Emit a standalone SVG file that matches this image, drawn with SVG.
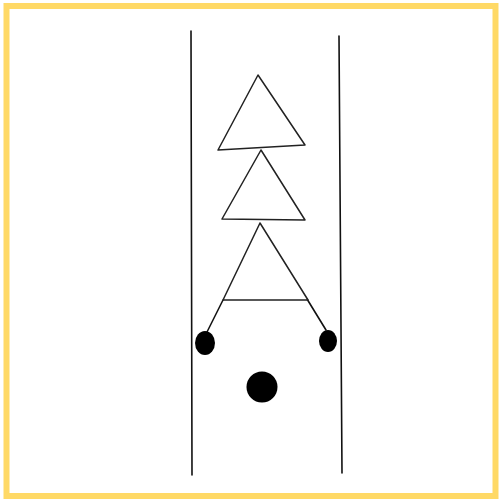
<svg xmlns="http://www.w3.org/2000/svg" width="500" height="500" viewBox="0 0 500 500">
<style>
.ln{stroke:#111;stroke-width:1.6;fill:none;stroke-linecap:round;stroke-linejoin:round}
.tri{stroke:#222;stroke-width:1.5;fill:#fff;stroke-linejoin:round}
.dot{fill:#000}
</style>
<rect x="0" y="0" width="500" height="500" fill="#fff"/>
<rect x="6.5" y="6" width="489" height="490" fill="none" stroke="#ffd966" stroke-width="6"/>
<g id="rails">
<line class="ln" x1="191" y1="31" x2="192" y2="475"/>
<line class="ln" x1="339" y1="36" x2="342" y2="473"/>
</g>
<g id="connectors">
<line class="ln" x1="223" y1="300" x2="207" y2="332"/>
<line class="ln" x1="307" y1="299" x2="326" y2="330"/>
</g>
<g id="tri1"><polygon class="tri" stroke-width="1.1" points="258,75 218,150 305,145"/></g>
<g id="tri2"><polygon class="tri" points="261,150 222,219 305,220"/></g>
<g id="tri3"><polygon class="tri" points="260,223 223,300 308,300"/></g>
<g id="dotL"><ellipse class="dot" cx="205" cy="343" rx="10" ry="12"/></g>
<g id="dotR"><ellipse class="dot" cx="328" cy="341" rx="9" ry="11"/></g>
<g id="dotC"><circle class="dot" cx="262" cy="387" r="15.5"/></g>
</svg>
